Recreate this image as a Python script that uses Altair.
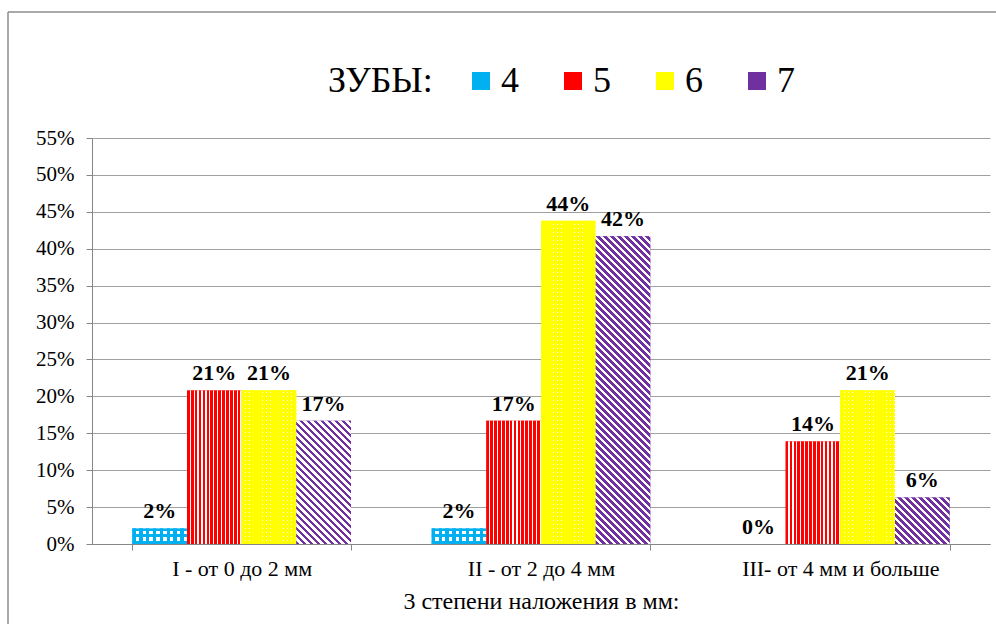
import altair as alt
import pandas as pd

# ---- data ----
groups = ["I - от 0 до 2 мм", "II - от 2 до 4 мм", "III- от  4 мм  и больше"]
series = ["4", "5", "6", "7"]
v4 = [0.021, 0.021, 0.0]
v5 = [0.208, 0.167, 0.139]
v6 = [0.208, 0.438, 0.208]
v7 = [0.167, 0.417, 0.063]
y_ticks = [0, 0.05, 0.10, 0.15, 0.20, 0.25, 0.30, 0.35, 0.40, 0.45, 0.50, 0.55]

colors = ["#00b0f0", "#ff0000", "#ffff00", "#7030a0"]

rows = []
for s, vals in zip(series, [v4, v5, v6, v7]):
    for g, v in zip(groups, vals):
        rows.append({"group": g, "series": s, "v": v})
df = pd.DataFrame(rows)

FONT = "Liberation Serif, Times New Roman, DejaVu Serif, serif"
CLEAR = "rgba(255,255,255,0)"


def stripes(color, other, n, duty):
    out = []
    for i in range(n):
        a, b, c = i / n, (i + duty) / n, (i + 1) / n
        out += [(a, color), (b, color), (b, other), (c, other)]
    return out


def js_stops(stops):
    return "[" + ",".join("{offset:%.5f,color:'%s'}" % (o, c) for o, c in stops) + "]"


def gradient_dict(stops):
    return {"gradient": "linear", "x1": 0, "y1": 0, "x2": 1, "y2": 0,
            "stops": [{"offset": round(o, 5), "color": c} for o, c in stops]}


W = "bandwidth('xOffset')"
H = "max(scale('y', 0) - scale('y', datum.v), 1)"


def diag_expr(stops, span):
    D = f"({W}*{W}+{H}*{H})"
    return (f"{{gradient:'linear',x1:0,y1:1,x2:{span}*{W}/{D},"
            f"y2:1-{span}*{H}/{D},stops:{js_stops(stops)}}}")


def horiz_expr(stops, span):
    return (f"{{gradient:'linear',x1:0,y1:1,x2:0.000001,"
            f"y2:1-{span}/{H},stops:{js_stops(stops)}}}")


base = alt.Chart(df).encode(
    x=alt.X("group:N", sort=groups, title="3 степени наложения в мм:",
            scale=alt.Scale(paddingInner=0.27, paddingOuter=0.135),
            axis=alt.Axis(labelAngle=0, tickBand="extent", grid=False, ticks=True,
                          tickSize=6, labelPadding=8, titlePadding=10, labelLimit=0,
                          labelFontSize=22, titleFontSize=24)),
    xOffset=alt.XOffset("series:N", sort=series,
                        scale=alt.Scale(paddingInner=0, paddingOuter=0)),
    y=alt.Y("v:Q", stack=None, title=None,
            scale=alt.Scale(domain=[0, 0.55], nice=False),
            axis=alt.Axis(values=y_ticks, format=".0%", tickSize=6, labelPadding=12,
                          labelFontSize=21, grid=True)),
)

bars = base.mark_bar().encode(
    color=alt.Color("series:N", sort=series,
                    scale=alt.Scale(domain=series, range=colors),
                    legend=alt.Legend(title="ЗУБЫ:", orient="none", legendX=236, legendY=-75,
                                      direction="horizontal", titleOrient="left",
                                      symbolType="square", symbolSize=324, symbolStrokeWidth=0,
                                      labelFontSize=36, titleFontSize=36, labelFont=FONT,
                                      titleFont=FONT, titleFontWeight="normal",
                                      labelColor="black", titleColor="black",
                                      columnPadding=36, labelOffset=2, titlePadding=30,
                                      titleBaseline="middle"))
)

SPAN = 420
blue_v = base.transform_filter("datum.series == '4'").mark_bar(
    fill=gradient_dict(stripes("#00b0f0", "#ffffff", 8, 0.5)))
blue_h = base.transform_filter("datum.series == '4'").mark_bar(
    fill={"expr": horiz_expr(stripes("#00b0f0", CLEAR, 64, 0.5), SPAN)})
red = base.transform_filter("datum.series == '5'").mark_bar(
    fill=gradient_dict(stripes("#ff0000", "#ffffff", 14, 0.68)))
yel_v = base.transform_filter("datum.series == '6'").mark_bar(
    fill=gradient_dict(stripes("#ffff00", "#ffffff", 13, 0.85)))
yel_h = base.transform_filter("datum.series == '6'").mark_bar(
    fill={"expr": horiz_expr(stripes("#ffff00", CLEAR, 105, 0.85), SPAN)})
purple = base.transform_filter("datum.series == '7'").mark_bar(
    fill={"expr": diag_expr(stripes("#7030a0", "#ffffff", 60, 0.5), SPAN)})

labels = base.mark_text(font=FONT, fontWeight="bold", fontSize=22, baseline="bottom",
                        dy=-5, color="black").encode(text=alt.Text("v:Q", format=".0%"))

frame_df = pd.DataFrame({"k": [0]})
frame_left = alt.Chart(frame_df).mark_rule(color="#8c8c8c", strokeWidth=1.5).encode(
    x=alt.value(-84), y=alt.value(-126), y2=alt.value(600))
frame_top = alt.Chart(frame_df).mark_rule(color="#8c8c8c", strokeWidth=1.5).encode(
    x=alt.value(-84), x2=alt.value(1000), y=alt.value(-126))

chart = alt.layer(bars, blue_v, blue_h, red, yel_v, yel_h, purple, labels,
                  frame_left, frame_top).properties(
    width=898, height=406,
    autosize=alt.AutoSizeParams(type="none"),
    padding={"left": 92, "top": 138, "right": 6, "bottom": 80},
    background="white",
).configure_view(stroke=None).configure_axis(
    labelFont=FONT, titleFont=FONT, labelColor="black", titleColor="black",
    titleFontWeight="normal", domainColor="#868686", tickColor="#868686",
    gridColor="#a0a0a0", gridWidth=1,
).configure_text(font=FONT)

chart.save("out.html", embed_options={"renderer": "svg", "actions": False})
